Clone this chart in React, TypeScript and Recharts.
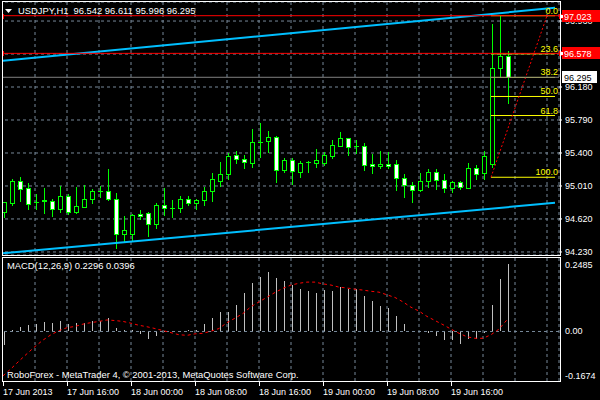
import { Bar, CartesianGrid, ComposedChart, Line, ReferenceDot, ReferenceLine, XAxis, YAxis } from "recharts";

const FONT = '"Liberation Sans", Arial, sans-serif';
const LIME = "#00FF00";
const GRID = "#778899";

const symbol = "USDJPY,H1";

// H1 bars, 17 Jun 08:00 .. 19 Jun 23:00
const opens = [
  94.706, 94.813, 95.065, 94.982, 94.821, 94.835, 94.833, 94.742, 94.888, 94.706,
  94.766, 94.852, 94.951, 94.947, 94.852, 94.439, 94.439, 94.675, 94.687, 94.557,
  94.781, 94.746, 94.746, 94.852, 94.805, 94.84, 94.955, 95.073, 95.148, 95.372,
  95.325, 95.286, 95.534, 95.538, 95.585, 95.195, 95.313, 95.179, 95.289, 95.285,
  95.285, 95.368, 95.486, 95.577, 95.483, 95.479, 95.27, 95.246, 95.27, 95.266,
  95.1, 95.018, 94.959, 95.065, 95.179, 95.085, 94.982, 95.053, 94.99, 95.219,
  95.16, 95.266, 96.401, 96.542,
];
const highs = [
  94.825, 95.097, 95.116, 95.041, 94.915, 94.986, 94.852, 95.006, 94.915, 94.994,
  95.022, 94.97, 95.006, 95.211, 94.923, 94.651, 94.679, 94.726, 94.706, 94.805,
  94.986, 94.844, 94.888, 94.888, 94.852, 94.998, 95.16, 95.294, 95.4, 95.428,
  95.372, 95.68, 95.758, 95.66, 95.601, 95.337, 95.337, 95.309, 95.309, 95.447,
  95.416, 95.553, 95.648, 95.58, 95.554, 95.514, 95.388, 95.424, 95.408, 95.317,
  95.152, 95.057, 95.16, 95.207, 95.207, 95.152, 95.069, 95.069, 95.278, 95.258,
  95.428, 96.925, 97.023, 96.611,
];
const lows = [
  94.64, 94.789, 94.833, 94.734, 94.734, 94.695, 94.655, 94.706, 94.675, 94.695,
  94.758, 94.805, 94.88, 94.84, 94.273, 94.364, 94.372, 94.624, 94.423, 94.517,
  94.667, 94.647, 94.706, 94.785, 94.734, 94.781, 94.836, 95.01, 95.089, 95.278,
  95.219, 95.238, 95.357, 95.416, 95.061, 95.171, 95.03, 95.12, 95.175, 95.238,
  95.258, 95.344, 95.48, 95.376, 95.396, 95.199, 95.16, 95.219, 95.219, 94.963,
  94.876, 94.817, 94.951, 94.994, 94.97, 94.935, 94.943, 94.97, 94.982, 95.089,
  95.097, 95.238, 96.31, 95.996,
];
const closes = [
  94.817, 95.065, 94.978, 94.801, 94.817, 94.845, 94.742, 94.888, 94.699, 94.77,
  94.852, 94.947, 94.951, 94.852, 94.439, 94.486, 94.663, 94.651, 94.557, 94.781,
  94.746, 94.746, 94.852, 94.805, 94.844, 94.951, 95.089, 95.148, 95.364, 95.325,
  95.29, 95.526, 95.534, 95.585, 95.195, 95.313, 95.183, 95.285, 95.289, 95.315,
  95.376, 95.494, 95.577, 95.475, 95.483, 95.254, 95.246, 95.27, 95.246, 95.1,
  95.018, 94.963, 95.065, 95.179, 95.085, 94.99, 95.053, 94.994, 95.219, 95.156,
  95.364, 96.401, 96.542, 96.295,
];

const macdHist = [
  -0.046, 0.004, 0.014, 0.023, 0.026, 0.032, 0.029, 0.036, 0.026, 0.029,
  0.03, 0.037, 0.035, 0.045, 0.012, 0.004, 0.005, -0.008, -0.026, -0.015,
  -0.002, 0.001, 0.003, 0.005, 0.004, 0.026, 0.046, 0.067, 0.065, 0.09,
  0.131, 0.164, 0.185, 0.2, 0.18, 0.171, 0.158, 0.145, 0.137, 0.131,
  0.139, 0.137, 0.149, 0.145, 0.144, 0.121, 0.104, 0.087, 0.078, 0.053,
  0.026, 0.002, -0.002, -0.006, -0.015, -0.028, -0.03, -0.042, -0.026, -0.024,
  -0.006, 0.09, 0.178, 0.2296,
];
const macdSignal = [
  -0.15, -0.126, -0.1, -0.075, -0.051, -0.029, -0.011, 0.003, 0.013, 0.017,
  0.025, 0.03, 0.034, 0.039, 0.037, 0.034, 0.028, 0.021, 0.016, 0.01,
  0.003, -0.004, -0.011, -0.013, -0.008, -0.006, 0.001, 0.01, 0.03, 0.045,
  0.061, 0.084, 0.1, 0.116, 0.132, 0.146, 0.157, 0.163, 0.167, 0.167,
  0.161, 0.157, 0.15, 0.147, 0.143, 0.14, 0.136, 0.133, 0.124, 0.115,
  0.1, 0.082, 0.069, 0.051, 0.037, 0.023, 0.008, -0.006, -0.018, -0.023,
  -0.023, -0.011, 0.008, 0.0396,
];

const slotCount = 70; // 64 bars plus the chart shift on the right
const gridSlots = [4, 8, 12, 16, 20, 24, 28, 32, 36, 40, 44, 48, 52, 56, 60, 64, 68];
const timeSlots = [0, 8, 16, 24, 32, 40, 48, 56];
const timeLabels = [
  "17 Jun 2013", "17 Jun 16:00", "18 Jun 00:00", "18 Jun 08:00",
  "18 Jun 16:00", "19 Jun 00:00", "19 Jun 08:00", "19 Jun 16:00",
];

const priceDomain = [94.194, 97.185];
const priceTicks = [94.23, 94.62, 95.01, 95.4, 95.79, 96.18, 96.57, 96.96];
const macdDomain = [-0.1674, 0.2485];
const macdTicks = [0.2485, 0, -0.1674];

const channelSlots = [0, 69];
const channelUpper = [96.491, 97.116];
const channelLower = [94.214, 94.811];

const redLines = [97.023, 96.578];
const bidPrice = 96.295;

const fibLevels = [97.023, 96.572, 96.293, 96.068, 95.843, 95.113];
const fibNames = ["0.0", "23.6", "38.2", "50.0", "61.8", "100.0"];
const fibSpan = [61, 69];
const fibDiagonal = [61, 68];

const rows = Array.from({ length: slotCount }, (_, i) => ({
  i,
  open: i < opens.length ? opens[i] : null,
  high: i < opens.length ? highs[i] : null,
  low: i < opens.length ? lows[i] : null,
  close: i < opens.length ? closes[i] : null,
  range: i < opens.length ? [lows[i], highs[i]] : null,
  upper: i === channelSlots[0] ? channelUpper[0] : i === channelSlots[1] ? channelUpper[1] : null,
  lower: i === channelSlots[0] ? channelLower[0] : i === channelSlots[1] ? channelLower[1] : null,
  hist: i < macdHist.length ? macdHist[i] : null,
  signal: i < macdSignal.length ? macdSignal[i] : null,
}));

const last = opens.length - 1;

function Candle(props: any) {
  const { x, y, width, height, payload } = props;
  if (!payload || payload.open == null) return null;
  const { open, close, high, low } = payload;
  const top = Math.min(y, y + height);
  const h = Math.abs(height);
  const k = high > low ? h / (high - low) : 0;
  const py = (v: number) => top + (high - v) * k;
  const cx = Math.round(x + width / 2);
  const bodyTop = Math.round(Math.min(py(open), py(close)));
  const bodyBot = Math.round(Math.max(py(open), py(close)));
  const up = close >= open;
  return (
    <g>
      <line x1={cx + 0.5} x2={cx + 0.5} y1={Math.round(top)} y2={Math.round(top + h) + 1} stroke={LIME} />
      {bodyBot - bodyTop < 1 ? (
        <line x1={cx - 2} x2={cx + 3} y1={bodyTop + 0.5} y2={bodyTop + 0.5} stroke={LIME} />
      ) : (
        <rect x={cx - 1.5} y={bodyTop + 0.5} width={4} height={bodyBot - bodyTop} fill={up ? "#000" : "#fff"} stroke={LIME} />
      )}
    </g>
  );
}

function HistBar(props: any) {
  const { x, y, width, height } = props;
  if (height == null || isNaN(height)) return null;
  const top = Math.round(Math.min(y, y + height));
  const bot = Math.round(Math.max(y, y + height));
  const cx = Math.round(x + width / 2);
  return <rect x={cx} y={top} width={1} height={Math.max(1, bot - top)} fill="#C0C0C0" />;
}

function PriceTick({ x, y, payload }: any) {
  return (
    <text x={x} y={y + 3} fill="#fff" fontSize={9} fontFamily={FONT}>
      {payload.value.toFixed(3)}
    </text>
  );
}

function MacdTick({ x, y, payload }: any) {
  const v = payload.value;
  const dy = v === macdTicks[0] ? 9.5 : v === macdTicks[2] ? -2 : 3;
  return (
    <text x={x} y={y + dy} fill="#fff" fontSize={9} fontFamily={FONT}>
      {v === 0 ? "0.00" : v.toFixed(4)}
    </text>
  );
}

function TimeTick({ x, y, payload }: any) {
  const label = timeLabels[timeSlots.indexOf(payload.value)];
  return (
    <g>
      <line x1={x + 0.5} x2={x + 0.5} y1={y - 5} y2={y - 1} stroke="#fff" />
      <text x={x} y={y + 8} fill="#fff" fontSize={9} fontFamily={FONT}>
        {label}
      </text>
    </g>
  );
}

function PriceTag({ viewBox, text, bg, fg, w }: any) {
  const right = viewBox.x + viewBox.width;
  const cy = Math.round(viewBox.y);
  return (
    <g>
      <rect x={right + 3} y={cy - 6} width={w} height={12} fill={bg} />
      <text x={right + 5} y={cy + 3.5} fill={fg} fontSize={9} fontFamily={FONT}>
        {text}
      </text>
    </g>
  );
}

function FibLabel({ viewBox, text }: any) {
  return (
    <text x={viewBox.x + viewBox.width + 3} y={viewBox.y - 2} textAnchor="end" fill="#FFFF00" fontSize={9} fontFamily={FONT}>
      {text}
    </text>
  );
}

function Anchor({ cx, cy }: any) {
  return <rect x={Math.round(cx) + 0.5} y={Math.round(cy) - 1.5} width={4} height={4} fill="#fff" stroke="#FF0000" />;
}

const textStyle = {
  position: "absolute" as const,
  color: "#fff",
  fontSize: 9.4,
  lineHeight: "12px",
  fontFamily: FONT,
  whiteSpace: "pre" as const,
};

const mainMargin = { top: 2, right: 0, bottom: 1, left: 0 };

export default function App() {
  return (
    <div style={{ position: "absolute", left: 0, top: 0, width: 600, height: 400, background: "#000", overflow: "hidden" }}>
      <div style={{ position: "absolute", left: -1, top: 0 }}>
        <ComposedChart width={601} height={256} data={rows} margin={mainMargin}>
          <CartesianGrid stroke={GRID} strokeDasharray="3 3" />
          <XAxis dataKey="i" type="category" hide ticks={gridSlots} />
          <YAxis
            orientation="right"
            width={41}
            domain={priceDomain}
            allowDataOverflow
            ticks={priceTicks}
            interval={0}
            axisLine={false}
            tickLine={{ stroke: "#fff" }}
            tickSize={3}
            tickMargin={3}
            tick={<PriceTick />}
          />
          <Bar dataKey="range" barSize={5} shape={<Candle />} isAnimationActive={false} />
          <Line dataKey="upper" stroke="#00BFFF" strokeWidth={2} dot={false} connectNulls isAnimationActive={false} />
          <Line dataKey="lower" stroke="#00BFFF" strokeWidth={2} dot={false} connectNulls isAnimationActive={false} />
          {fibLevels.map((lv, k) => (
            <ReferenceLine
              key={fibNames[k]}
              segment={[{ x: fibSpan[0], y: lv }, { x: fibSpan[1], y: lv }]}
              stroke="#FFFF00"
              label={(p: any) => <FibLabel {...p} text={fibNames[k]} />}
            />
          ))}
          <ReferenceLine
            segment={[{ x: fibDiagonal[0], y: fibLevels[5] }, { x: fibDiagonal[1], y: fibLevels[0] }]}
            stroke="#FF0000"
            strokeDasharray="2 2"
          />
        </ComposedChart>
      </div>

      {/* horizontal lines and their price tags sit over the price axis */}
      <div style={{ position: "absolute", left: -1, top: 0 }}>
        <ComposedChart width={601} height={256} data={rows} margin={mainMargin}>
          <XAxis dataKey="i" type="category" hide />
          <YAxis orientation="right" width={41} domain={priceDomain} allowDataOverflow tick={false} axisLine={false} tickLine={false} />
          <ReferenceLine
            y={bidPrice}
            stroke="#808080"
            label={(p: any) => <PriceTag {...p} text={bidPrice.toFixed(3)} bg="#fff" fg="#000" w={35} />}
          />
          {redLines.map((lv) => (
            <ReferenceLine
              key={lv}
              y={lv}
              stroke="#FF0000"
              label={(p: any) => <PriceTag {...p} text={lv.toFixed(3)} bg="#FF0000" fg="#fff" w={39} />}
            />
          ))}
          {redLines.map((lv) =>
            channelSlots.map((s) => <ReferenceDot key={`${lv}-${s}`} x={s} y={lv} shape={<Anchor />} />)
          )}
        </ComposedChart>
      </div>

      <div style={{ position: "absolute", left: -1, top: 256 }}>
        <ComposedChart width={601} height={144} data={rows} margin={{ top: 2, right: 0, bottom: 0, left: 0 }}>
          <XAxis
            dataKey="i"
            type="category"
            ticks={timeSlots}
            interval={0}
            height={19}
            axisLine={false}
            tickLine={false}
            tickSize={4}
            tickMargin={2}
            tick={<TimeTick />}
          />
          <XAxis xAxisId="grid" dataKey="i" type="category" hide ticks={gridSlots} />
          <YAxis
            orientation="right"
            width={41}
            domain={macdDomain}
            allowDataOverflow
            ticks={macdTicks}
            interval={0}
            axisLine={false}
            tickLine={false}
            tickSize={3}
            tickMargin={3}
            tick={<MacdTick />}
          />
          <CartesianGrid xAxisId="grid" horizontal={false} stroke={GRID} strokeDasharray="3 3" />
          <ReferenceLine y={0} stroke={GRID} strokeDasharray="3 3" />
          <Bar dataKey="hist" barSize={1} shape={<HistBar />} isAnimationActive={false} />
          <Line dataKey="signal" stroke="#FF0000" strokeDasharray="3 3" dot={false} isAnimationActive={false} />
        </ComposedChart>
      </div>

      {/* pane frames */}
      <div style={{ position: "absolute", left: 0, top: 0, width: 2, height: 400, background: "#000" }} />
      <div style={{ position: "absolute", left: 2, top: 1, width: 559, height: 255, border: "1px solid #fff", boxSizing: "border-box" }} />
      <div style={{ position: "absolute", left: 2, top: 257, width: 559, height: 125, border: "1px solid #fff", boxSizing: "border-box" }} />

      <svg style={{ position: "absolute", left: 5, top: 9 }} width={7} height={5}>
        <polygon points="0,0 7,0 3.5,4" fill="#fff" />
      </svg>
      <div style={{ ...textStyle, left: 18, top: 5 }}>
        {`${symbol}  ${opens[last].toFixed(3)} ${highs[last].toFixed(3)} ${lows[last].toFixed(3)} ${closes[last].toFixed(3)}`}
      </div>
      <div style={{ ...textStyle, left: 7, top: 260 }}>
        {`MACD(12,26,9) ${macdHist[last].toFixed(4)} ${macdSignal[last].toFixed(4)}`}
      </div>
      <div style={{ ...textStyle, left: 7, top: 369 }}>
        RoboForex - MetaTrader 4, © 2001-2013, MetaQuotes Software Corp.
      </div>
    </div>
  );
}
